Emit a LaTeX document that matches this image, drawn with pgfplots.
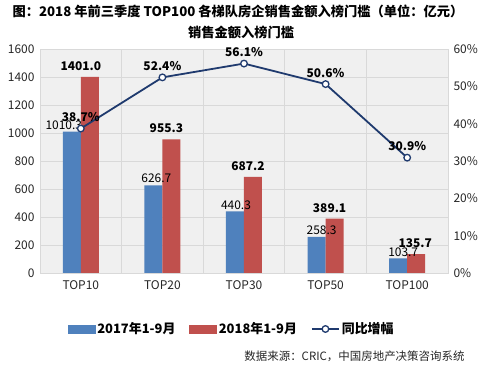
\documentclass[border=0pt]{standalone}
\usepackage{fontspec}
\setmainfont{Noto Sans CJK SC}
\usepackage{pgfplots}
\usepackage{pgfplotstable}
\pgfplotsset{compat=1.18}
\pgfkeys{/pgf/number format/1000 sep={}}
\definecolor{cblue}{HTML}{4F81BD}
\definecolor{cred}{HTML}{C0504D}
\definecolor{cnavy}{HTML}{1F3A6E}
\definecolor{cgrid}{HTML}{D9D9D9}
\definecolor{cbg}{HTML}{F0F0F0}
\definecolor{chatch}{HTML}{DCDCDC}

\pgfplotstableread{
x y dx
0 1010.3 -17
1 626.7 -6
2 440.3 -8
3 258.3 -4
4 103.7 -4
}\blueT
\pgfplotstableread{
x y dx
0 1401.0 0
1 955.3 4
2 687.2 4
3 389.1 4
4 135.7 8
}\redT
\pgfplotstableread{
x y
0 38.7
1 52.4
2 56.1
3 50.6
4 30.9
}\lineT

\begin{document}
\begin{tikzpicture}
\begin{axis}[
  name=ax,
  scale only axis, width=408bp, height=224bp,
  xmin=-0.5, xmax=4.5, ymin=0, ymax=1600,
  ytick={0,200,...,1600},
  xtick={0,...,4}, xticklabels={TOP10,TOP20,TOP30,TOP50,TOP100},
  minor xtick={0.5,1.5,2.5,3.5},
  xminorgrids, ymajorgrids,
  grid style={cgrid, line width=0.8bp},
  minor grid style={cgrid, line width=0.8bp},
  axis line style={cgrid, line width=0.8bp},
  major tick length=0pt, minor tick length=0pt,
  axis background/.style={fill=cbg},
  ticklabel style={font=\fontsize{12}{14}\selectfont, text=black!85},
  /pgf/number format/assume math mode=true,
  /pgf/number format/1000 sep={},
  yticklabel style={xshift=-2bp},
  xticklabel style={yshift=-4bp},
  scaled y ticks=false,
]
\addplot[ybar, bar width=18bp, bar shift=-9bp, fill=cblue, draw=none,
  visualization depends on={\thisrow{dx} \as \lblx},
  nodes near coords={\pgfmathprintnumber[fixed,precision=1,fixed zerofill,1000 sep={}]{\pgfplotspointmeta}},
  nodes near coords style={anchor=south, inner sep=1bp, xshift=\lblx*1bp, yshift=1bp,
    font=\fontsize{12}{14}\selectfont, text=black}]
  table[x=x,y=y]{\blueT};
\addplot[ybar, bar width=18bp, bar shift=9bp, fill=cred, draw=none,
  visualization depends on={\thisrow{dx} \as \lblx},
  nodes near coords={\pgfmathprintnumber[fixed,precision=1,fixed zerofill,1000 sep={}]{\pgfplotspointmeta}},
  nodes near coords style={anchor=south, inner sep=1bp, xshift=\lblx*1bp, yshift=5bp,
    font=\bfseries\fontsize{12}{14}\selectfont, text=black}]
  table[x=x,y=y]{\redT};
\end{axis}
\begin{axis}[
  scale only axis, width=408bp, height=224bp,
  xmin=-0.5, xmax=4.5, ymin=0, ymax=60,
  axis x line=none,
  axis y line*=right,
  axis line style={cgrid, line width=0.8bp},
  ytick={0,10,...,60},
  yticklabel={\pgfmathprintnumber{\tick}\%},
  major tick length=0pt,
  ticklabel style={font=\fontsize{12}{14}\selectfont, text=black!85},
  /pgf/number format/assume math mode=true,
  yticklabel style={xshift=2bp},
  clip=false,
  legend style={draw=none, fill=none, at={(0.47,-0.25)}, anchor=center,
    font=\bfseries\fontsize{13}{15}\selectfont, legend columns=3,
    /tikz/every even column/.append style={column sep=12bp}},
  legend cell align=left,
]
\addlegendimage{legend image code/.code={\fill[cblue] (0bp,-4bp) rectangle (27bp,4bp);}}
\addlegendentry{2017年1-9月}
\addlegendimage{legend image code/.code={\fill[cred] (0bp,-4bp) rectangle (27bp,4bp);}}
\addlegendentry{2018年1-9月}
\addplot[cnavy, line width=1.8bp, mark=*, mark size=3.3bp,
  mark options={fill=white, draw=cnavy, line width=1.3bp},
  legend image code/.code={\draw[cnavy, line width=1.8bp] (0bp,0bp) -- (27bp,0bp);
    \draw[cnavy, fill=white, line width=1.3bp] (13.5bp,0bp) circle (3.3bp);},
  nodes near coords={\pgfmathprintnumber[fixed,precision=1,fixed zerofill]{\pgfplotspointmeta}\%},
  nodes near coords style={anchor=south, inner sep=1bp, yshift=5bp,
    font=\bfseries\fontsize{12}{14}\selectfont, text=black}]
  table[x=x,y=y]{\lineT};
\addlegendentry{同比增幅}
\end{axis}
\node[font=\bfseries\fontsize{13.3}{15}\selectfont] at ([shift={(198bp,262bp)}]ax.south west)
  {图：2018 年前三季度 TOP100 各梯队房企销售金额入榜门槛（单位：亿元）};
\node[font=\bfseries\fontsize{13.3}{15}\selectfont] at ([shift={(201bp,241bp)}]ax.south west)
  {销售金额入榜门槛};
\node[anchor=east, font=\fontsize{11.5}{13}\selectfont, text=black!85] at ([shift={(428bp,-83bp)}]ax.south west)
  {数据来源：CRIC，中国房地产决策咨询系统};
\pgfresetboundingbox
\path ([shift={(-40bp,-101bp)}]ax.south west) rectangle ([shift={(449bp,273bp)}]ax.south west);
\end{tikzpicture}
\end{document}
